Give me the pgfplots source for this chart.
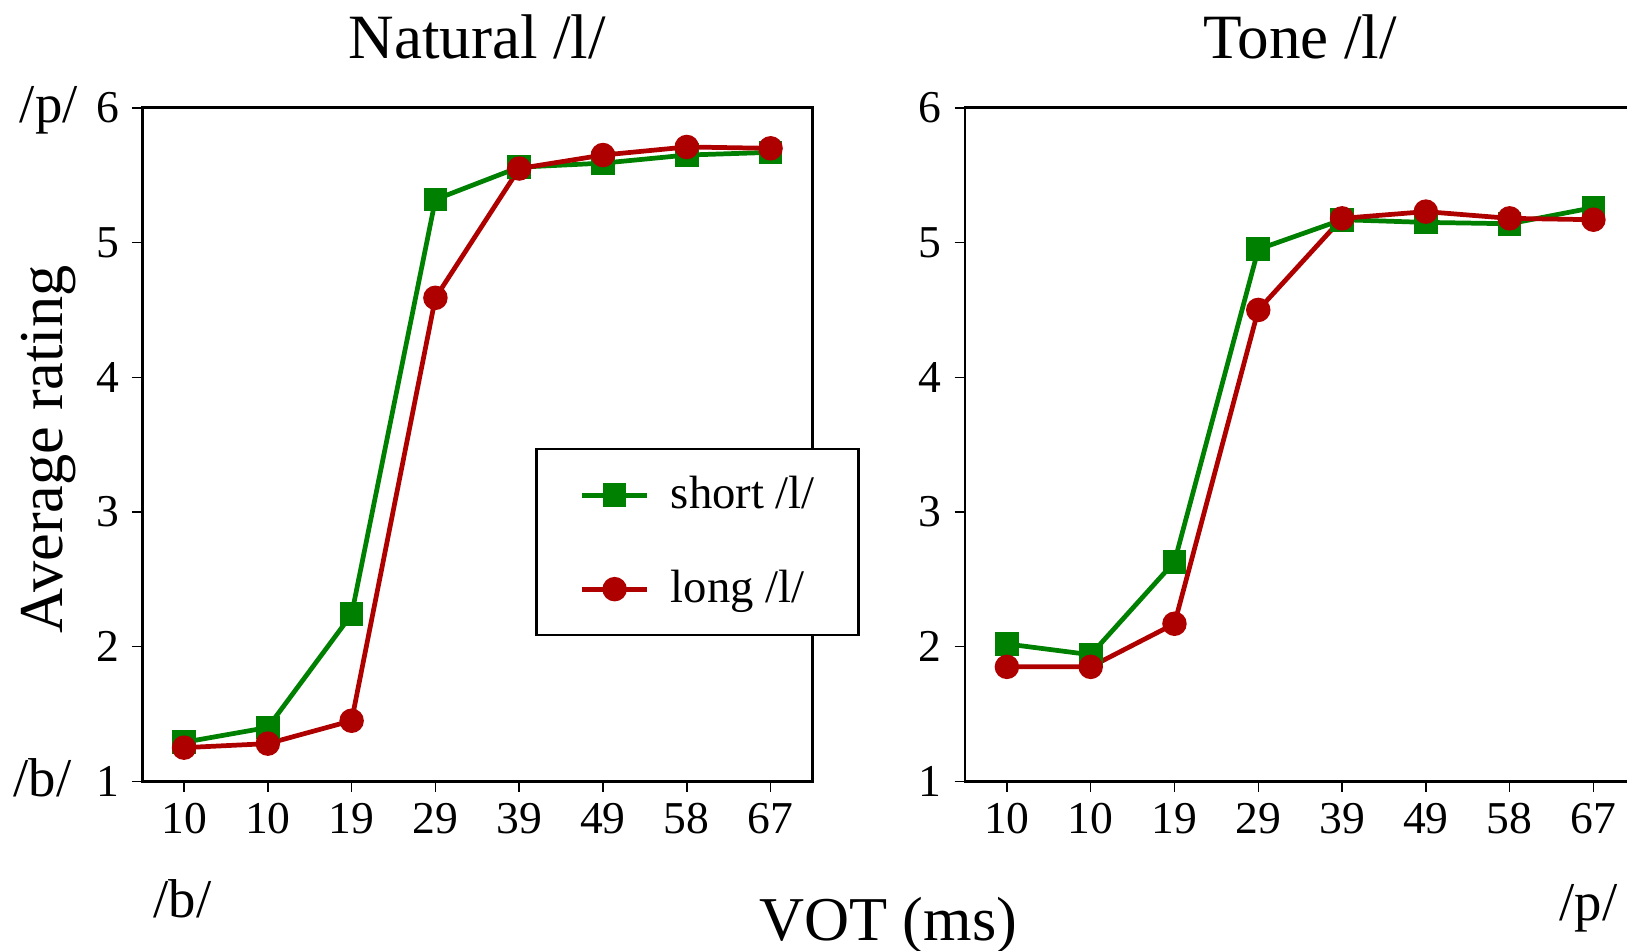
\documentclass[border=0pt]{standalone}
\usepackage{fontspec}
\setmainfont{Liberation Serif}
\usepackage{pgfplots}
\pgfplotsset{compat=1.18}

\definecolor{sgreen}{RGB}{0,128,0}
\definecolor{lred}{RGB}{175,0,0}

\pgfplotsset{
  vot/.style={
    scale only axis, width=6.46cm, height=6.49cm,
    xmin=-0.5, xmax=7.5, ymin=1, ymax=6,
    xtick={0,...,7}, xticklabels={10,10,19,29,39,49,58,67},
    ytick={1,...,6},
    tick align=outside, tick pos=left,
    major tick length=0.1cm,
    axis line style={line width=0.8pt},
    every tick/.style={black, line width=0.4pt},
    tick label style={font=\fontsize{12.5}{14}\selectfont},
    /pgf/number format/assume math mode=true,
    xticklabel style={anchor=base, yshift=-0.40cm},
    title style={font=\fontsize{17.3}{20}\selectfont, anchor=base, at={(0.5,1)}, yshift=0.27cm},
    clip=false,
    legend image code/.code={
      \draw[mark repeat=2, mark phase=2, #1] plot coordinates {(0cm,0cm) (0.31cm,0cm) (0.62cm,0cm)};
    },
  },
  short/.style={sgreen, line width=1.3pt, mark=square*, mark size=2.6pt, mark options={solid}},
  long/.style={lred, line width=1.3pt, mark=*, mark size=2.7pt, mark options={solid}},
}

\begin{document}
\begin{tikzpicture}
\begin{axis}[vot, at={(1.37cm,-7.53cm)}, anchor=south west,
  title={Natural /l/},
  legend style={at={(0.5867,0.4946)}, anchor=north west, draw=black, line width=0.6pt,
    font=\fontsize{12.8}{15}\selectfont, inner xsep=0.42cm, inner ysep=0.26cm,
    row sep=0.54cm, column sep=0.21cm, nodes={inner sep=0pt}},
  legend cell align=left,
]
\addplot[short] coordinates {
(0,1.29) (1,1.40) (2,2.24) (3,5.32) (4,5.56) (5,5.59) (6,5.65) (7,5.67)
};
\addlegendentry{short /l/}
\addplot[long] coordinates {
(0,1.25) (1,1.28) (2,1.45) (3,4.59) (4,5.55) (5,5.65) (6,5.71) (7,5.70)
};
\addlegendentry{long /l/}
\end{axis}

\begin{axis}[vot, at={(9.30cm,-7.53cm)}, anchor=south west,
  title={Tone /l/},
]
\addplot[short] coordinates {
(0,2.02) (1,1.94) (2,2.63) (3,4.95) (4,5.17) (5,5.15) (6,5.14) (7,5.26)
};
\addplot[long] coordinates {
(0,1.85) (1,1.85) (2,2.17) (3,4.50) (4,5.18) (5,5.23) (6,5.18) (7,5.17)
};
\end{axis}

% outer labels
\node[rotate=90, anchor=base, font=\fontsize{17.1}{20}\selectfont] at (0.60cm,-4.33cm) {Average rating};
\node[anchor=base, font=\fontsize{15}{18}\selectfont] at (0.47cm,-1.18cm) {/p/};
\node[anchor=base, font=\fontsize{15}{18}\selectfont] at (0.41cm,-7.68cm) {/b/};
\node[anchor=base, font=\fontsize{15}{18}\selectfont] at (1.76cm,-8.84cm) {/b/};
\node[anchor=base, font=\fontsize{15}{18}\selectfont] at (15.31cm,-8.87cm) {/p/};
\node[anchor=base, font=\fontsize{17.1}{20}\selectfont] at (8.56cm,-9.06cm) {VOT (ms)};

\pgfresetboundingbox
\path (0,0) rectangle (15.68cm,-9.16cm);
\end{tikzpicture}
\end{document}
